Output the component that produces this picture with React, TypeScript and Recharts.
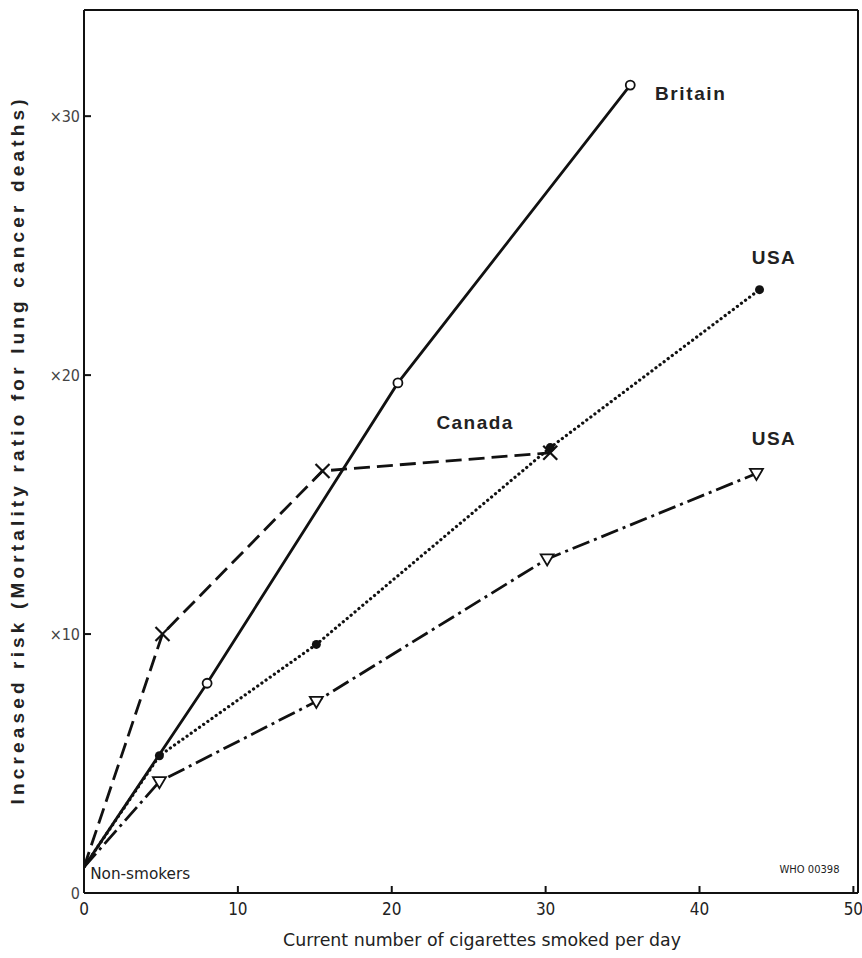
import React from "react";
import {
  LineChart, Line, XAxis, YAxis, ReferenceLine, ReferenceDot,
} from "recharts";

// Britain (solid, open circles)
const britainX = [0, 8, 20.4, 35.5];
const britainY = [1, 8.1, 19.7, 31.2];

// Canada (dashed, crosses)
const canadaX = [0, 5.1, 15.5, 30.3];
const canadaY = [1, 10, 16.3, 17.0];

// USA, dotted series (filled dots)
const usaDotX = [0, 4.9, 15.1, 30.3, 43.9];
const usaDotY = [1, 5.3, 9.6, 17.2, 23.3];

// USA, dash-dot series (open triangles)
const usaTriX = [0, 4.9, 15.1, 30.1, 43.7];
const usaTriY = [1, 4.3, 7.4, 12.9, 16.2];

const xTicks = [0, 10, 20, 30, 40, 50];
const yTicks = [0, 10, 20, 30];

const labels = [
  { text: "Britain", x: 37.1, y: 30.8, size: 19, bold: true, len: 70 },
  { text: "USA", x: 43.4, y: 24.5, size: 19, bold: true, len: 43 },
  { text: "Canada", x: 22.9, y: 18.1, size: 19, bold: true, len: 76 },
  { text: "USA", x: 43.4, y: 17.5, size: 19, bold: true, len: 43 },
  { text: "Non-smokers", x: 0.4, y: 0.7, size: 16, bold: false, len: 100 },
  { text: "WHO 00398", x: 45.2, y: 0.9, size: 10, bold: false, len: 60 },
];

const zip = (xs: number[], ys: number[]) => xs.map((x, i) => ({ x, y: ys[i] }));

const britain = zip(britainX, britainY);
const canada = zip(canadaX, canadaY);
const usaDot = zip(usaDotX, usaDotY);
const usaTri = zip(usaTriX, usaTriY);

const X_MAX = 50.3;
const Y_MAX = 34.1;
const narrow = "'Liberation Sans Narrow', 'DejaVu Sans Condensed', sans-serif";
const bold = "'Liberation Sans', Arial, sans-serif";

const OpenCircle = (p: any) =>
  p.index === 0 ? <g key={p.key} /> :
  <circle key={p.key} cx={p.cx} cy={p.cy} r={4.5} fill="#fff" stroke="#111" strokeWidth={1.8} />;

const FilledDot = (p: any) =>
  p.index === 0 ? <g key={p.key} /> :
  <circle key={p.key} cx={p.cx} cy={p.cy} r={4.5} fill="#111" />;

const Cross = (p: any) => {
  if (p.index === 0) return <g key={p.key} />;
  const s = 7;
  return (
    <g key={p.key} stroke="#111" strokeWidth={2.2}>
      <line x1={p.cx - s} y1={p.cy - s} x2={p.cx + s} y2={p.cy + s} />
      <line x1={p.cx - s} y1={p.cy + s} x2={p.cx + s} y2={p.cy - s} />
    </g>
  );
};

const Triangle = (p: any) => {
  if (p.index === 0) return <g key={p.key} />;
  const s = 6.5;
  const pts = `${p.cx - s},${p.cy - s * 0.7} ${p.cx + s},${p.cy - s * 0.7} ${p.cx},${p.cy + s}`;
  return <polygon key={p.key} points={pts} fill="#fff" stroke="#111" strokeWidth={1.8} />;
};

const yFmt = (v: number) => (v === 0 ? "0" : `×${v}`);

export default function App() {
  return (
    <div style={{ position: "absolute", left: 0, top: 0, background: "#fff" }}>
      <LineChart width={862} height={958} margin={{ top: 10, right: 4, bottom: 15, left: 40 }}>
        <XAxis
          type="number"
          dataKey="x"
          domain={[0, X_MAX]}
          ticks={xTicks}
          allowDataOverflow
          stroke="#111"
          strokeWidth={2}
          tickSize={-7}
          tickMargin={17}
          height={50}
          tick={{ fontSize: 17, fill: "#222", fontFamily: narrow }}
          label={(props: any) => {
            const vb = props.viewBox;
            return (
              <text x={482} y={vb.y + 53} textAnchor="middle" fontSize={17}
                fontFamily={narrow} fill="#222" textLength={398}
                lengthAdjust="spacingAndGlyphs">
                Current number of cigarettes smoked per day
              </text>
            );
          }}
        />
        <YAxis
          type="number"
          dataKey="y"
          domain={[0, Y_MAX]}
          ticks={yTicks}
          tickFormatter={yFmt}
          allowDataOverflow
          width={44}
          stroke="#111"
          strokeWidth={2}
          tickSize={-7}
          tickMargin={11}
          tick={{ fontSize: 16, fill: "#444", fontFamily: narrow }}
          label={() => {
            const cx = 19;
            const cy = 452;
            return (
              <text x={cx} y={cy} textAnchor="middle" dominantBaseline="middle"
                transform={`rotate(-90 ${cx} ${cy})`} fontSize={19} fontWeight="bold"
                fontFamily={bold} fill="#222" textLength={705} lengthAdjust="spacing">
                Increased risk  (Mortality ratio for lung cancer deaths)
              </text>
            );
          }}
        />
        <ReferenceLine y={Y_MAX} stroke="#111" strokeWidth={2} ifOverflow="extendDomain" />
        <ReferenceLine x={X_MAX} stroke="#111" strokeWidth={2} ifOverflow="extendDomain" />

        <Line data={canada} dataKey="y" stroke="#111" strokeWidth={2.8}
          strokeDasharray="16 7" dot={Cross} isAnimationActive={false} />
        <Line data={usaDot} dataKey="y" stroke="#111" strokeWidth={3.2}
          strokeDasharray="0.1 5" strokeLinecap="round" dot={FilledDot} isAnimationActive={false} />
        <Line data={usaTri} dataKey="y" stroke="#111" strokeWidth={2.8}
          strokeDasharray="18 5 3 5" dot={Triangle} isAnimationActive={false} />
        <Line data={britain} dataKey="y" stroke="#111" strokeWidth={2.8}
          dot={OpenCircle} isAnimationActive={false} />

        {labels.map((l, i) => (
          <ReferenceDot key={i} x={l.x} y={l.y} r={2} fill="none" stroke="none"
            label={(props: any) => {
              const vb = props.viewBox;
              return (
                <text x={vb.x + vb.width / 2} y={vb.y + vb.height / 2}
                  dominantBaseline="middle" fontSize={l.size}
                  fontWeight={l.bold ? "bold" : "normal"}
                  fontFamily={l.bold ? bold : narrow} fill="#222"
                  textLength={l.len}
                  lengthAdjust={l.bold ? "spacing" : "spacingAndGlyphs"}>
                  {l.text}
                </text>
              );
            }} />
        ))}
      </LineChart>
    </div>
  );
}
